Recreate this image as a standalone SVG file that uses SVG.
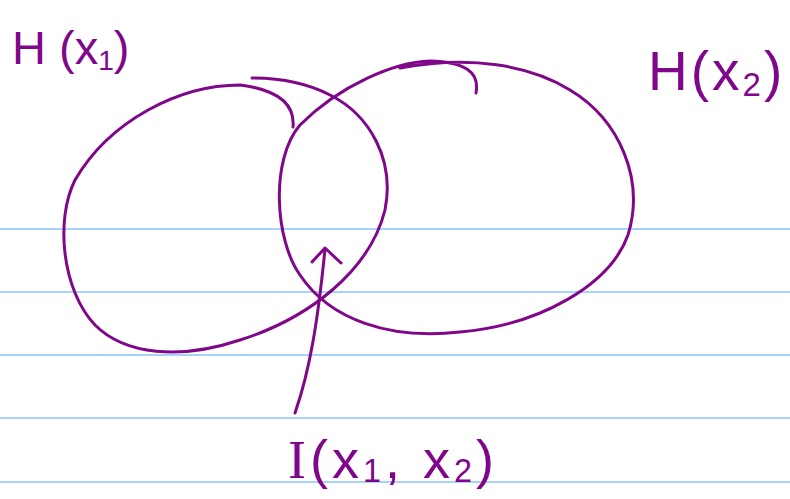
<svg xmlns="http://www.w3.org/2000/svg" width="790" height="499" viewBox="0 0 790 499">
<style>
.rule{stroke:#a6d2fb;stroke-width:2;fill:none}
.ink{stroke:#80068a;stroke-width:3;fill:none;stroke-linecap:round;stroke-linejoin:round}
.lbl{fill:#80068a;font-family:"Liberation Sans",Arial,sans-serif}
.sub{font-size:0.6em}
</style>
<rect width="790" height="499" fill="#ffffff"/>
<g id="rules">
<line class="rule" x1="0" y1="229" x2="790" y2="229"/>
<line class="rule" x1="0" y1="292" x2="790" y2="292"/>
<line class="rule" x1="0" y1="355" x2="790" y2="355"/>
<line class="rule" x1="0" y1="418" x2="790" y2="418"/>
<line class="rule" x1="0" y1="482" x2="790" y2="482"/>
</g>
<g id="hx1">
<path class="ink" d="M293,127 C295,105 280,90 240,85 C180,85 110,120 75,180 C55,220 62,290 95,325 C125,355 180,360 240,340 C310,318 370,270 385,210 C395,160 370,115 330,95 C305,82 275,78 252,78"/>
<text class="lbl" x="12" y="64" font-size="47">H (x<tspan class="sub" dy="6">1</tspan><tspan dy="-6">)</tspan></text>
</g>
<g id="hx2">
<path class="ink" d="M476,93 C480,72 465,62 430,61 C395,62 340,85 300,125 C270,160 275,240 300,275 C330,320 390,340 460,332 C540,325 610,285 628,235 C645,180 620,120 570,90 C530,65 470,55 400,68"/>
<text class="lbl" x="648" y="90" font-size="55" letter-spacing="3">H(x<tspan class="sub" dy="6">2</tspan><tspan dy="-6">)</tspan></text>
</g>
<g id="ix1x2">
<text class="lbl" x="288" y="478" font-size="54" letter-spacing="4"><tspan font-family="Liberation Serif,serif">I</tspan>(x<tspan class="sub" dy="4">1</tspan><tspan dy="-4">, x</tspan><tspan class="sub" dy="4">2</tspan><tspan dy="-4">)</tspan></text>
</g>
<g id="connectors">
<path class="ink" d="M295,413 C310,370 318,320 325,249"/>
<path class="ink" d="M312,262 L325,248 L341,263"/>
</g>
</svg>
